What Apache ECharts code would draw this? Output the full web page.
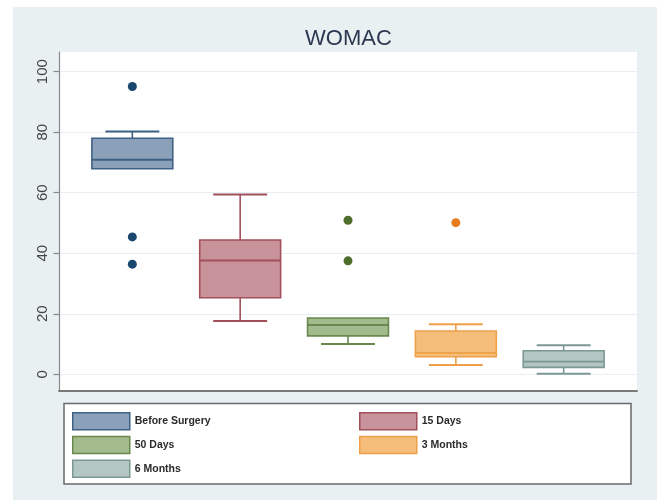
<!DOCTYPE html>
<html>
<head>
<meta charset="utf-8">
<title>WOMAC</title>
<script src="https://cdn.jsdelivr.net/npm/echarts@6/dist/echarts.min.js"></script>
<style>
  html, body { margin: 0; padding: 0; background: #ffffff; }
  #wrap { position: relative; width: 657px; height: 500px; overflow: hidden; }
  #panel { position: absolute; left: 13px; top: 7px; right: 0; bottom: 0; background: #e9f0f2; }
  #chart { position: absolute; left: 0; top: 0; width: 657px; height: 500px; }
</style>
</head>
<body>
<div id="wrap">
  <div id="panel"></div>
  <div id="chart"></div>
</div>
<script>
// WOMAC score at each follow-up time point
const groups = ['Before Surgery', '15 Days', '50 Days', '3 Months', '6 Months'];
const lowerWhisker = [67.9, 17.6, 10.0, 3.1, 0.2];
const q1 = [67.9, 25.3, 12.7, 5.8, 2.3];
const median = [70.9, 37.6, 16.3, 7.1, 4.2];
const q3 = [78.0, 44.4, 18.6, 14.3, 7.8];
const upperWhisker = [80.2, 59.4, 18.6, 16.5, 9.6];
const outliers = [[95.1, 45.4, 36.4], [], [50.9, 37.5], [50.1], []];
const yTicks = [0, 20, 40, 60, 80, 100];

// fill, outline and outlier marker colours per group
const fills = ['#8aa1b9', '#c9939b', '#a3ba8c', '#f5bd7a', '#b3c6c2'];
const strokes = ['#3f6185', '#a24f5c', '#68884d', '#eea049', '#7c9894'];
const dots = ['#1a476f', '#90353b', '#4f6e2c', '#e87d1e', '#6e8e84'];

const BOX_HALF = 0.375;   // half box width in x units
const CAP_HALF = 0.25;    // half whisker cap width in x units

function renderBox(params, api) {
  const x = api.value(0);
  const lo = api.value(1), b1 = api.value(2), md = api.value(3), b3 = api.value(4), hi = api.value(5);
  const P = (xx, yy) => api.coord([xx, yy]);
  const stroke = strokes[params.seriesIndex];
  const fill = fills[params.seriesIndex];
  const children = [];
  const line = (a, b, w) => children.push({
    type: 'line',
    shape: { x1: a[0], y1: a[1], x2: b[0], y2: b[1] },
    style: { stroke: stroke, lineWidth: w }
  });
  if (hi > b3) {
    line(P(x, b3), P(x, hi), 1.6);
    line(P(x - CAP_HALF, hi), P(x + CAP_HALF, hi), 2);
  }
  if (lo < b1) {
    line(P(x, b1), P(x, lo), 1.6);
    line(P(x - CAP_HALF, lo), P(x + CAP_HALF, lo), 2);
  }
  const tl = P(x - BOX_HALF, b3);
  const br = P(x + BOX_HALF, b1);
  children.push({
    type: 'rect',
    shape: { x: tl[0], y: tl[1], width: br[0] - tl[0], height: br[1] - tl[1] },
    style: { fill: fill, stroke: stroke, lineWidth: 1.6 }
  });
  line(P(x - BOX_HALF, md), P(x + BOX_HALF, md), 1.8);
  return { type: 'group', children: children };
}

const series = [];
groups.forEach((g, i) => {
  series.push({
    name: g,
    type: 'custom',
    renderItem: renderBox,
    itemStyle: { color: fills[i], borderColor: strokes[i] },
    encode: { x: 0, y: [1, 2, 3, 4, 5] },
    data: [[i + 1, lowerWhisker[i], q1[i], median[i], q3[i], upperWhisker[i]]],
    z: 3
  });
});
groups.forEach((g, i) => {
  if (!outliers[i].length) return;
  series.push({
    name: g + ' outliers',
    type: 'scatter',
    symbol: 'circle',
    symbolSize: 9,
    itemStyle: { color: dots[i], opacity: 1 },
    data: outliers[i].map(v => [i + 1, v]),
    z: 4
  });
});

const legendItem = (i) => ({
  name: groups[i],
  itemStyle: { color: fills[i], borderColor: strokes[i], borderWidth: 1.5 }
});
const legendCommon = {
  orient: 'vertical',
  icon: 'rect',
  itemWidth: 57,
  itemHeight: 17,
  itemGap: 5.2,
  padding: 0,
  selectedMode: false,
  textStyle: { fontFamily: 'Liberation Sans, Arial, sans-serif', fontSize: 10.5, fontWeight: 'bold', color: '#2a2a2a' }
};

const chart = echarts.init(document.getElementById('chart'), null, { renderer: 'canvas' });
chart.setOption({
  backgroundColor: 'transparent',
  animation: false,
  title: {
    text: 'WOMAC',
    left: 305,
    top: 28,
    padding: 0,
    textStyle: { fontFamily: 'Liberation Sans, Arial, sans-serif', fontSize: 22, fontWeight: 'normal', color: '#2b3850' }
  },
  grid: {
    left: 59, right: 20, top: 52, bottom: 109.5,
    show: true, backgroundColor: '#ffffff', borderWidth: 0
  },
  xAxis: {
    type: 'value',
    min: 0.32, max: 5.68,
    axisLine: { show: true, onZero: false, lineStyle: { color: '#7a7a7a', width: 2 } },
    axisTick: { show: false },
    axisLabel: { show: false },
    splitLine: { show: false }
  },
  yAxis: {
    type: 'value',
    min: -5.35, max: 106.5,
    axisLine: { show: true, lineStyle: { color: '#8a8a8a', width: 1.2 } },
    axisTick: { show: true, length: 5.5, customValues: yTicks, lineStyle: { color: '#8a8a8a', width: 1.2 } },
    axisLabel: {
      customValues: yTicks,
      rotate: 90,
      margin: 9,
      fontFamily: 'Liberation Sans, Arial, sans-serif',
      fontSize: 15,
      color: '#454545'
    },
    splitLine: { show: true, customValues: yTicks, lineStyle: { color: '#e9eef0', width: 1 } }
  },
  legend: [
    Object.assign({ left: 72, top: 412, data: [0, 2, 4].map(legendItem) }, legendCommon),
    Object.assign({ left: 359, top: 412, data: [1, 3].map(legendItem) }, legendCommon)
  ],
  graphic: [{
    type: 'rect',
    silent: true,
    z: 0,
    shape: { x: 64, y: 403.5, width: 567, height: 80.5 },
    style: { fill: '#ffffff', stroke: '#6a6a6a', lineWidth: 1.5 }
  }],
  series: series
});
</script>
</body>
</html>
